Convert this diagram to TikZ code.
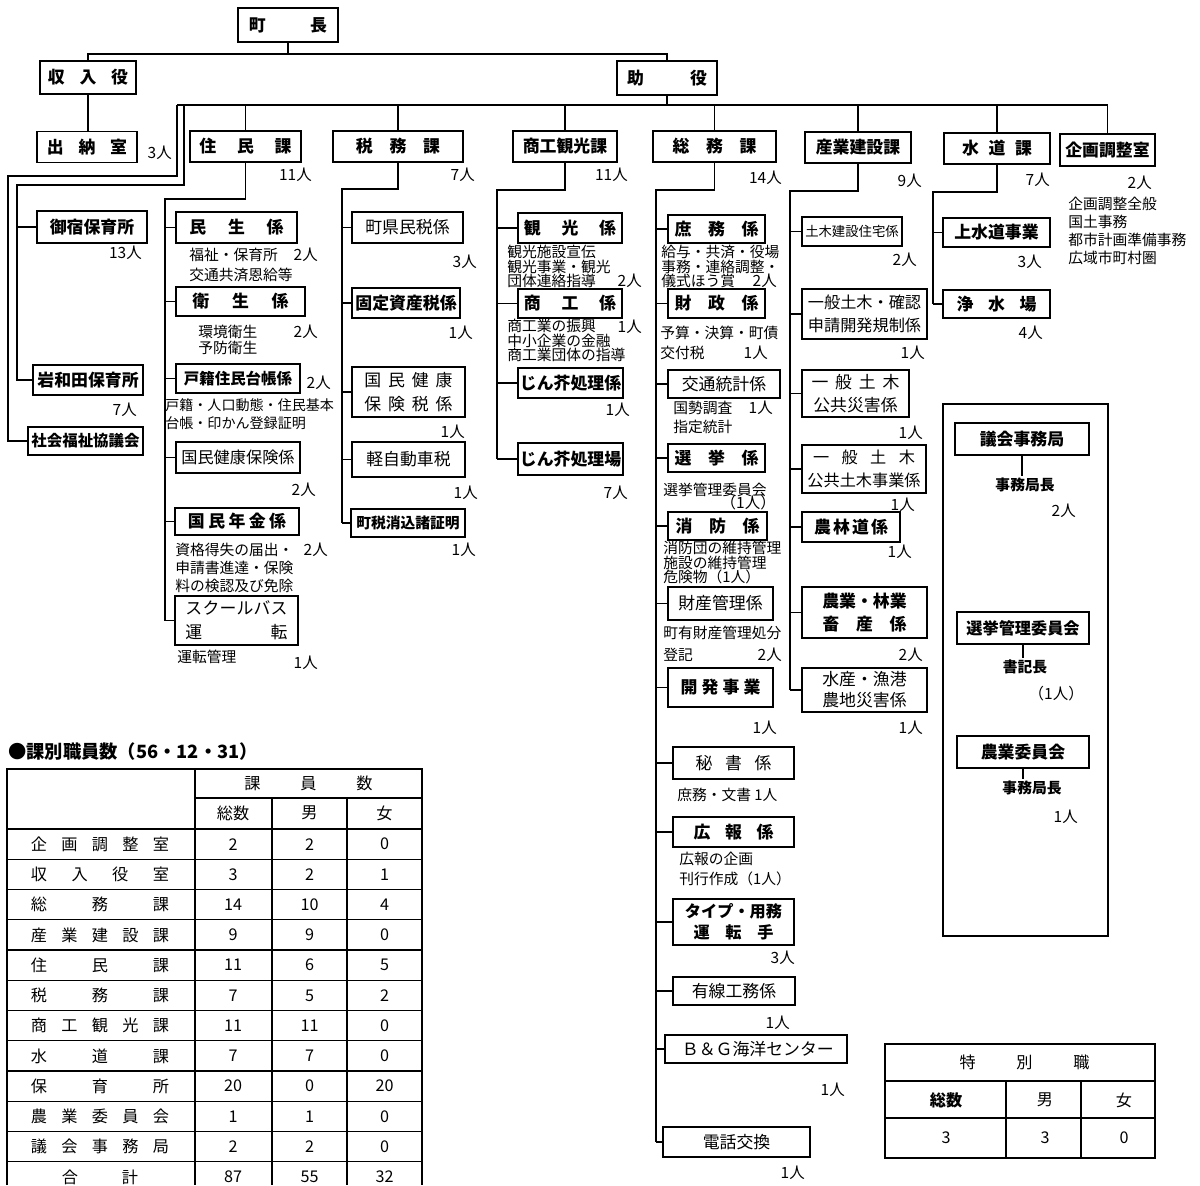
\documentclass[tikz,border=0pt]{standalone}
\usepackage{fontspec}
\setmainfont{Noto Sans CJK JP}
\usepackage{tikz}
\usetikzlibrary{calc,positioning}
\newcommand{\spreadtext}[2]{\makebox[#1][s]{#2}}

\begin{document}
\begin{tikzpicture}[
  x=0.025cm, y=-0.025cm,
  box/.style   = {draw, line width=1.2pt, inner sep=0pt, align=center,
                  font=\fontsize{12}{14}\selectfont\bfseries},
  boxr/.style  = {box, font=\fontsize{12}{14}\selectfont},
  desc/.style  = {anchor=west, inner sep=0pt, align=left,
                  font=\fontsize{10.5}{13}\selectfont},
  dense/.style = {font=\fontsize{10.5}{10.3}\selectfont},
  num/.style   = {anchor=east, inner sep=0pt, font=\fontsize{11}{12}\selectfont},
  sub/.style   = {inner sep=1pt, font=\fontsize{10.5}{12}\selectfont\bfseries},
  cell/.style  = {inner sep=0pt, font=\fontsize{11.5}{13}\selectfont},
  link/.style  = {line width=1.2pt},
  grid/.style  = {line width=0.9pt}
]
  \useasboundingbox (0,0) rectangle (1200,1185);

  % Top of the chart
  \node[box, minimum width=2.5cm, minimum height=0.85cm] (chou) at (288,25) {\spreadtext{1.95cm}{町\hfil 長}};
  \node[box, minimum width=2.4cm, minimum height=0.825cm] (shunyu) at (88,77.5) {\spreadtext{2.0cm}{収\hfil 入\hfil 役}};
  \node[box, minimum width=2.5cm, minimum height=0.85cm] (joyaku) at (667,78) {\spreadtext{2.0cm}{助\hfil 役}};
  \node[box, minimum width=2.5cm, minimum height=0.775cm] (suitou) at (87,147) {\spreadtext{2.0cm}{出\hfil 納\hfil 室}};
  \node[num] (suitou-n) at (172,153) {3人};

  % Sections
  \node[box, minimum width=2.775cm, minimum height=0.775cm] (jumin) at (245.5,146.5) {\spreadtext{2.3cm}{住\hfil 民\hfil 課}};
  \node[box, minimum width=3.25cm, minimum height=0.775cm] (zeimu) at (398,146.5) {\spreadtext{2.1cm}{税\hfil 務\hfil 課}};
  \node[box, minimum width=2.6cm, minimum height=0.775cm] (shoko) at (565,146.5) {商工観光課};
  \node[box, minimum width=3.075cm, minimum height=0.775cm] (somu) at (714.5,146.5) {\spreadtext{2.1cm}{総\hfil 務\hfil 課}};
  \node[box, minimum width=2.65cm, minimum height=0.775cm] (sangyo) at (858,147.5) {産業建設課};
  \node[box, minimum width=2.65cm, minimum height=0.775cm] (suido) at (997,148.5) {\spreadtext{1.75cm}{水\hfil 道\hfil 課}};
  \node[box, minimum width=2.375cm, minimum height=0.8cm] (kikaku) at (1107.5,150) {企画調整室};

  \node[num] (jumin-n) at (312,175) {11人};
  \node[num] (zeimu-n) at (475,175) {7人};
  \node[num] (shoko-n) at (628,175) {11人};
  \node[num] (somu-n) at (782,178) {14人};
  \node[num] (sangyo-n) at (922,181) {9人};
  \node[num] (suido-n) at (1050,180) {7人};
  \node[num] (kikaku-n) at (1152,183) {2人};
  \node[desc, font=\fontsize{10.5}{12.8}\selectfont] (kikaku-d) at (1068,230.5) {企画調整全般\\国土事務\\都市計画準備事務\\広域市町村圏};

  % Nurseries and welfare council
  \node[box, minimum width=2.75cm, minimum height=0.8cm] (onjuku) at (92,227) {御宿保育所};
  \node[num] (onjuku-n) at (142,253) {13人};
  \node[box, minimum width=2.75cm, minimum height=0.75cm] (iwawada) at (88,380) {岩和田保育所};
  \node[num] (iwawada-n) at (137,410) {7人};
  \node[box, minimum width=2.875cm, minimum height=0.7cm, font=\fontsize{11}{13}\selectfont\bfseries] (shakyo) at (85.5,441) {社会福祉協議会};

  % Residents section
  \node[box, minimum width=3.025cm, minimum height=0.775cm] (minsei) at (236.5,227.5) {\spreadtext{2.35cm}{民\hfil 生\hfil 係}};
  \node[desc, font=\fontsize{10.5}{14.2}\selectfont] (minsei-d) at (189,265) {福祉・保育所\\交通共済恩給等};
  \node[num] (minsei-n) at (318,255) {2人};
  \node[box, minimum width=3.225cm, minimum height=0.725cm] (eisei) at (240.5,301.5) {\spreadtext{2.4cm}{衛\hfil 生\hfil 係}};
  \node[desc, font=\fontsize{10.5}{11.4}\selectfont] (eisei-d) at (198,340) {環境衛生\\予防衛生};
  \node[num] (eisei-n) at (318,332) {2人};
  \node[box, minimum width=3.1cm, minimum height=0.725cm, font=\fontsize{11}{13}\selectfont\bfseries] (koseki) at (238,378.5) {戸籍住民台帳係};
  \node[num] (koseki-n) at (331,383) {2人};
  \node[desc, font=\fontsize{10}{13}\selectfont] (koseki-d) at (165,414) {戸籍・人口動態・住民基本\\台帳・印かん登録証明};
  \node[box, minimum width=3.1cm, minimum height=0.775cm, font=\fontsize{11.5}{13}\selectfont] (kokuho) at (238,457.5) {国民健康保険係};
  \node[num] (kokuho-n) at (316,490) {2人};
  \node[box, minimum width=3.1cm, minimum height=0.675cm] (nenkin) at (237,521.5) {\spreadtext{2.45cm}{国\hfil 民\hfil 年\hfil 金\hfil 係}};
  \node[desc, font=\fontsize{10.5}{12.8}\selectfont] (nenkin-d) at (175,568) {資格得失の届出・\\申請書進達・保険\\料の検認及び免除};
  \node[num] (nenkin-n) at (328,550) {2人};
  \node[box, minimum width=3.075cm, minimum height=1.225cm, font=\fontsize{12}{17}\selectfont] (school) at (236.5,620.5) {\spreadtext{2.55cm}{ス\hfil ク\hfil ー\hfil ル\hfil バ\hfil ス}\\\spreadtext{2.55cm}{運\hfil 転}};
  \node[desc] (school-d) at (177,657) {運転管理};
  \node[num] (school-n) at (318,663) {1人};

  % Tax section
  \node[box, minimum width=2.775cm, minimum height=0.775cm, font=\fontsize{12}{14}\selectfont] (choken) at (407.5,227.5) {町県民税係};
  \node[num] (choken-n) at (477,262) {3人};
  \node[box, minimum width=2.7cm, minimum height=0.75cm] (kotei) at (406,303) {固定資産税係};
  \node[num] (kotei-n) at (473,333) {1人};
  \node[box, minimum width=2.825cm, minimum height=1.25cm, font=\fontsize{12}{17}\selectfont] (kokuhozei) at (408.5,392) {\spreadtext{2.2cm}{国\hfil 民\hfil 健\hfil 康}\\\spreadtext{2.2cm}{保\hfil 険\hfil 税\hfil 係}};
  \node[num] (kokuhozei-n) at (465,432) {1人};
  \node[box, minimum width=2.825cm, minimum height=0.875cm, font=\fontsize{12}{14}\selectfont] (keiji) at (408.5,459.5) {軽自動車税};
  \node[num] (keiji-n) at (478,493) {1人};
  \node[box, minimum width=2.85cm, minimum height=0.7cm, font=\fontsize{10.5}{12}\selectfont\bfseries] (keshikomi) at (408,523) {町税消込諸証明};
  \node[num] (keshikomi-n) at (476,550) {1人};

  % Commerce and tourism section
  \node[box, minimum width=2.6cm, minimum height=0.75cm] (kanko) at (570,228) {\spreadtext{2.3cm}{観\hfil 光\hfil 係}};
  \node[desc, dense] (kanko-d) at (507,266.5) {観光施設宣伝\\観光事業・観光\\団体連絡指導};
  \node[num] (kanko-n) at (642,281) {2人};
  \node[box, minimum width=2.6cm, minimum height=0.725cm] (shoko2) at (570,303.5) {\spreadtext{2.3cm}{商\hfil 工\hfil 係}};
  \node[desc, dense] (shoko2-d) at (507,340.5) {商工業の振興\\中小企業の金融\\商工業団体の指導};
  \node[num] (shoko2-n) at (642,327) {1人};
  \node[box, minimum width=2.625cm, minimum height=0.75cm] (jinkai1) at (570.5,383) {じん芥処理係};
  \node[num] (jinkai1-n) at (630,410) {1人};
  \node[box, minimum width=2.625cm, minimum height=0.8cm] (jinkai2) at (570.5,459) {じん芥処理場};
  \node[num] (jinkai2-n) at (628,493) {7人};

  % General affairs section
  \node[box, minimum width=2.425cm, minimum height=0.7cm] (shomu) at (716.5,229) {\spreadtext{2.1cm}{庶\hfil 務\hfil 係}};
  \node[desc, dense] (shomu-d) at (661,266.5) {給与・共済・役場\\事務・連絡調整・\\儀式ほう賞};
  \node[num] (shomu-n) at (777,281) {2人};
  \node[box, minimum width=2.425cm, minimum height=0.725cm] (zaisei) at (716.5,303.5) {\spreadtext{2.1cm}{財\hfil 政\hfil 係}};
  \node[desc, font=\fontsize{10.5}{14.2}\selectfont] (zaisei-d) at (660,343) {予算・決算・町債\\交付税};
  \node[num] (zaisei-n) at (768,353) {1人};
  \node[boxr, minimum width=2.8cm, minimum height=0.7cm] (kotsu) at (724,384) {交通統計係};
  \node[desc, font=\fontsize{10.5}{13.5}\selectfont] (kotsu-d) at (673,417.5) {国勢調査\\指定統計};
  \node[num] (kotsu-n) at (773,408) {1人};
  \node[box, minimum width=2.425cm, minimum height=0.7cm] (senkyo) at (716.5,458) {\spreadtext{2.1cm}{選\hfil 挙\hfil 係}};
  \node[desc] (senkyo-d) at (663,490) {選挙管理委員会};
  \node[num] (senkyo-n) at (776,503) {（1人）};
  \node[box, minimum width=2.475cm, minimum height=0.7cm] (shobo) at (717.5,526) {\spreadtext{2.1cm}{消\hfil 防\hfil 係}};
  \node[desc, dense] (shobo-d) at (663,562.5) {消防団の維持管理\\施設の維持管理\\危険物（1人）};
  \node[box, minimum width=2.625cm, minimum height=0.825cm, font=\fontsize{12}{14}\selectfont] (zaisan) at (720.5,603.5) {財産管理係};
  \node[desc, font=\fontsize{10.5}{15.6}\selectfont] (zaisan-d) at (663,644) {町有財産管理処分\\登記};
  \node[num] (zaisan-n) at (782,655) {2人};
  \node[box, minimum width=2.625cm, minimum height=0.975cm] (kaihatsu) at (720.5,687.5) {\spreadtext{2.0cm}{開\hfil 発\hfil 事\hfil 業}};
  \node[num] (kaihatsu-n) at (777,728) {1人};
  \node[boxr, minimum width=3.025cm, minimum height=0.8cm] (hisho) at (733.5,763) {\spreadtext{1.9cm}{秘\hfil 書\hfil 係}};
  \node[desc] (hisho-d) at (677,795) {庶務・文書 1人};
  \node[box, minimum width=3.025cm, minimum height=0.75cm] (koho) at (733.5,832) {\spreadtext{2.0cm}{広\hfil 報\hfil 係}};
  \node[desc, font=\fontsize{10.5}{14.2}\selectfont] (koho-d) at (679,869) {広報の企画\\刊行作成（1人）};
  \node[box, minimum width=3.025cm, minimum height=1.15cm, font=\fontsize{11.5}{15}\selectfont\bfseries] (type) at (733.5,922) {タイプ・用務\\\spreadtext{2.0cm}{運\hfil 転\hfil 手}};
  \node[num] (type-n) at (795,958) {3人};
  \node[boxr, minimum width=3.05cm, minimum height=0.7cm] (yusen) at (734,991) {有線工務係};
  \node[num] (yusen-n) at (790,1023) {1人};
  \node[boxr, minimum width=4.55cm, minimum height=0.7cm] (bg) at (756,1049) {\spreadtext{3.7cm}{Ｂ\hfil ＆\hfil Ｇ\hfil 海\hfil 洋\hfil セ\hfil ン\hfil タ\hfil ー}};
  \node[num] (bg-n) at (845,1090) {1人};
  \node[boxr, minimum width=3.675cm, minimum height=0.75cm] (denwa) at (736.5,1142) {電話交換};
  \node[num] (denwa-n) at (805,1173) {1人};

  % Industry and construction section
  \node[boxr, minimum width=2.5cm, minimum height=0.725cm, font=\fontsize{9.5}{11}\selectfont] (doboku) at (852,231.5) {土木建設住宅係};
  \node[num] (doboku-n) at (917,260) {2人};
  \node[boxr, minimum width=3.125cm, minimum height=1.25cm, font=\fontsize{11.5}{16}\selectfont] (kakunin) at (864.5,314) {一般土木・確認\\申請開発規制係};
  \node[num] (kakunin-n) at (925,353) {1人};
  \node[boxr, minimum width=2.675cm, minimum height=1.175cm, font=\fontsize{12}{16}\selectfont] (saigai) at (855.5,393.5) {\spreadtext{2.2cm}{一\hfil 般\hfil 土\hfil 木}\\公共災害係};
  \node[num] (saigai-n) at (923,433) {1人};
  \node[boxr, minimum width=3.1cm, minimum height=1.2cm, font=\fontsize{11.5}{16}\selectfont] (jigyo) at (864,469) {\spreadtext{2.55cm}{一\hfil 般\hfil 土\hfil 木}\\公共土木事業係};
  \node[num] (jigyo-n) at (915,505) {1人};
  \node[box, minimum width=2.45cm, minimum height=0.75cm] (rindo) at (851,527) {\spreadtext{1.85cm}{農\hfil 林\hfil 道\hfil 係}};
  \node[num] (rindo-n) at (912,552) {1人};
  \node[box, minimum width=3.125cm, minimum height=1.275cm, font=\fontsize{12}{16.5}\selectfont\bfseries] (chikusan) at (864.5,612.5) {農業・林業\\\spreadtext{2.1cm}{畜\hfil 産\hfil 係}};
  \node[num] (chikusan-n) at (923,655) {2人};
  \node[boxr, minimum width=3.125cm, minimum height=1.1cm, font=\fontsize{12}{15}\selectfont] (suisan) at (864.5,690) {水産・漁港\\農地災害係};
  \node[num] (suisan-n) at (923,728) {1人};

  % Waterworks section
  \node[box, minimum width=2.675cm, minimum height=0.725cm] (josui) at (996.5,232.5) {上水道事業};
  \node[num] (josui-n) at (1042,262) {3人};
  \node[box, minimum width=2.675cm, minimum height=0.7cm] (jousui) at (996.5,304) {\spreadtext{2.0cm}{浄\hfil 水\hfil 場}};
  \node[num] (jousui-n) at (1043,333) {4人};

  % Independent bodies in their frame
  \node[draw, link, minimum width=4.125cm, minimum height=13.3cm] (frame) at (1025.5,670) {};
  \node[box, minimum width=3.35cm, minimum height=0.8cm] (gikai) at (1022,439) {議会事務局};
  \node[sub] (gikai-c) at (1025,485) {事務局長};
  \node[num] (gikai-n) at (1076,511) {2人};
  \node[box, minimum width=3.3cm, minimum height=0.8cm, font=\fontsize{11.5}{13}\selectfont\bfseries] (senkan) at (1023,628) {選挙管理委員会};
  \node[sub] (senkan-c) at (1025,667) {書記長};
  \node[num] (senkan-n) at (1084,694) {（1人）};
  \node[box, minimum width=3.3cm, minimum height=0.8cm] (nogyo) at (1023,752) {農業委員会};
  \node[sub] (nogyo-c) at (1032,788) {事務局長};
  \node[num] (nogyo-n) at (1078,817) {1人};

  % Connectors from the top
  \coordinate (topbar) at (88,54);
  \draw[link] (chou.south) -- (chou.south |- topbar);
  \draw[link] (shunyu.north) |- (joyaku.north |- topbar) -- (joyaku.north);
  \draw[link] (shunyu.south) -- (shunyu.south |- suitou.north);

  \coordinate (busl) at (177,105);
  \coordinate (busi) at (184,105);
  \draw[link] (joyaku.south) -- (joyaku.south |- busl);
  \draw[link] (busl) -- (busl -| kikaku.north);
  \foreach \n in {jumin,zeimu,shoko,somu,sangyo,suido,kikaku}
    \draw[link] (\n.north |- busl) -- (\n.north);

  % Lines down the left edge
  \coordinate (ol) at (8,176);
  \coordinate (il) at (17,185);
  \draw[link] (busl) |- (ol) |- (shakyo.west);
  \draw[link] (busi) |- (il) |- (iwawada.west);
  \draw[link] (il |- onjuku.west) -- (onjuku.west);

  % Trunks of each section
  \coordinate (jt) at (165,199);
  \draw[link] (jumin.south) |- (jt) -- (jt |- school.west);
  \foreach \n in {minsei,eisei,koseki,kokuho,nenkin,school}
    \draw[link] (jt |- \n.west) -- (\n.west);

  \coordinate (zt) at (342,189);
  \draw[link] (zeimu.south) |- (zt) -- (zt |- keshikomi.west);
  \foreach \n in {choken,kotei,kokuhozei,keiji,keshikomi}
    \draw[link] (zt |- \n.west) -- (\n.west);

  \coordinate (st) at (497,190);
  \draw[link] (shoko.south) |- (st) -- (st |- jinkai2.west);
  \foreach \n in {kanko,shoko2,jinkai1,jinkai2}
    \draw[link] (st |- \n.west) -- (\n.west);

  \coordinate (mt) at (656,190);
  \draw[link] (somu.south) |- (mt) -- (mt |- denwa.west);
  \foreach \n in {shomu,zaisei,kotsu,senkyo,shobo,zaisan,kaihatsu,hisho,koho,type,yusen,bg,denwa}
    \draw[link] (mt |- \n.west) -- (\n.west);

  \coordinate (gt) at (790,191);
  \draw[link] (sangyo.south) |- (gt) -- (gt |- suisan.west);
  \foreach \n in {doboku,kakunin,saigai,jigyo,rindo,chikusan,suisan}
    \draw[link] (gt |- \n.west) -- (\n.west);

  \coordinate (wt) at (933,192);
  \draw[link] (suido.south) |- (wt) -- (wt |- jousui.west);
  \foreach \n in {josui,jousui}
    \draw[link] (wt |- \n.west) -- (\n.west);

  \draw[link] (gikai.south) -- (gikai.south |- gikai-c.north);
  \draw[link] (senkan.south) -- (senkan.south |- senkan-c.north);
  \draw[link] (nogyo.south) -- (nogyo.south |- nogyo-c.north);

  % Staff per section table
  \node[anchor=west, inner sep=0pt, font=\fontsize{13}{14}\selectfont\bfseries] (title) at (8,752) {●課別職員数（56・12・31）};
  \draw[grid] (7,1185) -- (7,769) -- (422,769) -- (422,1185);
  \draw[grid] (195,769) -- (195,1185);
  \draw[grid] (195,798) -- (422,798);
  \draw[grid] (272,798) -- (272,1185);
  \draw[grid] (347,798) -- (347,1185);
  \foreach \k in {0,...,11}
    \draw[grid] (7,{829+30.25*\k}) -- (422,{829+30.25*\k});
  \node[cell] (head) at (308.5,783) {\spreadtext{3.2cm}{課\hfil 員\hfil 数}};
  \node[cell] (head-all) at (233,813) {総数};
  \node[cell] (head-m) at (309.5,813) {男};
  \node[cell] (head-f) at (384.5,813) {女};
  \foreach \lab/\cw/\a/\b/\c [count=\i] in {
      {企\hfil 画\hfil 調\hfil 整\hfil 室}/3.45cm/2/2/0,
      {収\hfil 入\hfil 役\hfil 室}/3.45cm/3/2/1,
      {総\hfil 務\hfil 課}/3.45cm/14/10/4,
      {産\hfil 業\hfil 建\hfil 設\hfil 課}/3.45cm/9/9/0,
      {住\hfil 民\hfil 課}/3.45cm/11/6/5,
      {税\hfil 務\hfil 課}/3.45cm/7/5/2,
      {商\hfil 工\hfil 観\hfil 光\hfil 課}/3.45cm/11/11/0,
      {水\hfil 道\hfil 課}/3.45cm/7/7/0,
      {保\hfil 育\hfil 所}/3.45cm/20/0/20,
      {農\hfil 業\hfil 委\hfil 員\hfil 会}/3.45cm/1/1/0,
      {議\hfil 会\hfil 事\hfil 務\hfil 局}/3.45cm/2/2/0,
      {合\hfil 計}/1.9cm/87/55/32} {
    \node[cell] (row\i) at (100,{813.875+30.25*\i}) {\spreadtext{\cw}{\lab}};
    \node[cell] (all\i) at (233,{813.875+30.25*\i}) {\a};
    \node[cell] (m\i) at (309.5,{813.875+30.25*\i}) {\b};
    \node[cell] (f\i) at (384.5,{813.875+30.25*\i}) {\c};
  }

  % Special posts table
  \draw[grid] (885,1044) rectangle (1155,1158);
  \draw[grid] (885,1081) -- (1155,1081);
  \draw[grid] (885,1118) -- (1155,1118);
  \draw[grid] (1006,1081) -- (1006,1158);
  \draw[grid] (1081,1081) -- (1081,1158);
  \node[cell] (toku) at (1024.5,1062) {\spreadtext{3.25cm}{特\hfil 別\hfil 職}};
  \node[cell, font=\fontsize{11.5}{13}\selectfont\bfseries] (toku-all) at (946,1100) {総数};
  \node[cell] (toku-m) at (1045,1100) {男};
  \node[cell] (toku-f) at (1124,1100) {女};
  \node[cell] (toku-a) at (946,1138) {3};
  \node[cell] (toku-b) at (1045,1138) {3};
  \node[cell] (toku-c) at (1124,1138) {0};

\end{tikzpicture}
\end{document}
